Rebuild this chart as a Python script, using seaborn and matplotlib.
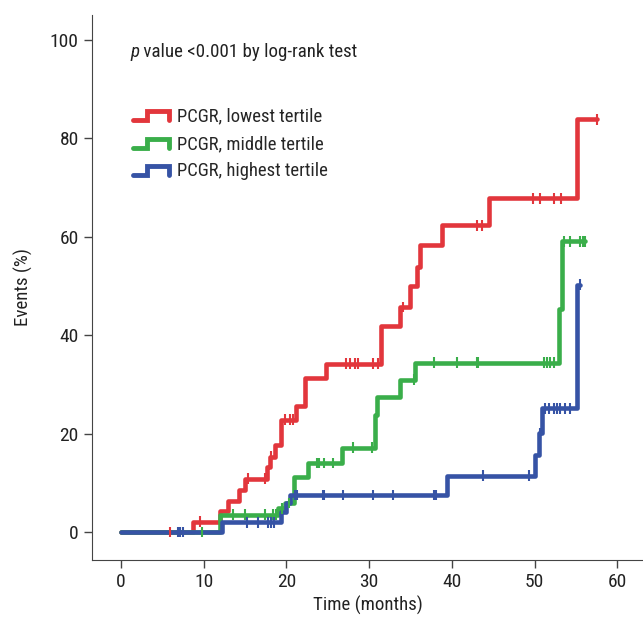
import matplotlib
matplotlib.use('Agg')
import matplotlib.pyplot as plt
from matplotlib.legend_handler import HandlerBase
from matplotlib.lines import Line2D
import numpy as np
import pandas as pd
import seaborn as sns

# groups and colours
groups = ['PCGR, lowest tertile', 'PCGR, middle tertile', 'PCGR, highest tertile']
colors = ['#e2363c', '#3aae4a', '#3653a5']

# cumulative events (%): step times (months) and values
low_t = [0, 8.7, 12.0, 13.0, 14.3, 15.0, 17.6, 18.0, 18.6, 19.4, 21.2, 22.2, 24.8,
         31.4, 33.7, 34.9, 35.8, 36.1, 38.8, 44.5, 55.1]
low_v = [0, 2.1, 4.3, 6.3, 8.6, 10.8, 13.1, 15.3, 17.7, 22.8, 25.5, 31.2, 34.2,
         41.8, 45.7, 49.9, 53.9, 58.3, 62.3, 67.8, 83.8]
low_cens = [5.9, 9.6, 15.4, 17.4, 18.2, 19.8, 20.4, 20.8, 27.2, 27.7, 28.3, 28.6,
            30.5, 31.1, 34.1, 43.0, 43.6, 49.8, 50.7, 52.3, 53.2, 57.5]

mid_t = [0, 12.0, 19.0, 19.8, 20.9, 22.6, 26.7, 30.7, 31.0, 33.7, 35.5, 52.9, 53.3]
mid_v = [0, 3.5, 4.8, 5.9, 11.2, 14.0, 17.1, 23.8, 27.5, 30.9, 34.4, 45.3, 59.0]
mid_cens = [9.8, 13.6, 15.0, 17.4, 18.4, 18.8, 19.5, 20.3, 23.7, 23.9, 24.5, 25.6,
            28.0, 30.3, 35.4, 37.8, 40.6, 43.0, 43.2, 51.1, 51.5, 51.9, 52.4, 53.5,
            54.3, 55.5, 55.8, 56.1]

high_t = [0, 12.2, 19.4, 20.0, 20.4, 39.4, 50.1, 50.5, 50.9, 55.1]
high_v = [0, 2.0, 4.1, 5.8, 7.5, 11.4, 15.7, 20.1, 25.1, 50.2]
high_cens = [6.9, 7.1, 7.5, 15.2, 16.6, 17.8, 18.1, 18.5, 21.0, 21.3, 24.4, 24.6,
             26.9, 30.5, 32.9, 37.8, 38.1, 43.8, 49.3, 50.7, 51.3, 51.7, 52.3, 52.7,
             53.1, 53.7, 54.3, 55.5]

x_ticks = [0, 10, 20, 30, 40, 50, 60]
y_ticks = [0, 20, 40, 60, 80, 100]

# build tables
curve_rows = []
cens_rows = []
for name, t, v, c in [(groups[0], low_t, low_v, low_cens),
                      (groups[1], mid_t, mid_v, mid_cens),
                      (groups[2], high_t, high_v, high_cens)]:
    t = np.array(t)
    v = np.array(v)
    tt = np.append(t, max(c))
    vv = np.append(v, v[-1])
    curve_rows.append(pd.DataFrame({'time': tt, 'events': vv, 'group': name}))
    idx = np.searchsorted(t, c, side='right') - 1
    cens_rows.append(pd.DataFrame({'time': c, 'events': v[idx], 'group': name}))
curves = pd.concat(curve_rows, ignore_index=True)
cens = pd.concat(cens_rows, ignore_index=True)

sns.set_style('ticks')
plt.rcParams['font.family'] = ['Roboto Condensed', 'Liberation Sans Narrow', 'Roboto', 'DejaVu Sans']
plt.rcParams['axes.edgecolor'] = '#444444'
plt.rcParams['xtick.color'] = '#444444'
plt.rcParams['ytick.color'] = '#444444'

fig = plt.figure(figsize=(6.43, 6.23), dpi=100)
ax = fig.add_axes([0.143, 0.101, 0.857, 0.875])

sns.lineplot(data=curves, x='time', y='events', hue='group', palette=colors,
             drawstyle='steps-post', linewidth=3.3, estimator=None, legend=False, ax=ax)
sns.scatterplot(data=cens, x='time', y='events', hue='group', palette=colors,
                marker='|', s=60, linewidth=1.5, legend=False, ax=ax, zorder=3)

ax.set_xlim(-3.5, 63.1)
ax.set_ylim(-5.7, 105)
ax.set_xticks(x_ticks)
ax.set_yticks(y_ticks)
ax.tick_params(labelsize=14, length=6, width=1, labelcolor='#222222')
ax.set_xlabel('Time (months)', fontsize=13.6, color='#222222', labelpad=3)
ax.set_ylabel('Events (%)', fontsize=13.6, color='#222222', labelpad=12)
sns.despine(ax=ax)

# p value text
ptxt = ax.text(1.1, 97.4, 'p', fontsize=13.6, style='italic', va='center', color='#222222')
ax.annotate(' value <0.001 by log-rank test', xy=(1, 0), xycoords=ptxt,
            va='bottom', fontsize=13.6, color='#222222')


class StepHandler(HandlerBase):
    def create_artists(self, legend, orig_handle, xdescent, ydescent, width, height, fontsize, trans):
        x0 = -xdescent
        y0 = -ydescent + height * 0.1
        xs = [x0, x0 + 0.4 * width, x0 + 0.4 * width, x0 + width, x0 + width]
        ys = [y0, y0, y0 + height * 0.7, y0 + height * 0.7, y0]
        ln = Line2D(xs, ys, color=orig_handle.get_color(), linewidth=3.5,
                    solid_joinstyle='miter', transform=trans)
        return [ln]


handles = [Line2D([], [], color=c) for c in colors]
ax.legend(handles, groups, handler_map={Line2D: StepHandler()}, loc='upper left',
          bbox_to_anchor=(0.074, 0.83), frameon=False, fontsize=13.4, handlelength=1.95,
          handletextpad=0.45, labelspacing=0.5, borderpad=0, borderaxespad=0)

fig.savefig('out.png', dpi=100)
